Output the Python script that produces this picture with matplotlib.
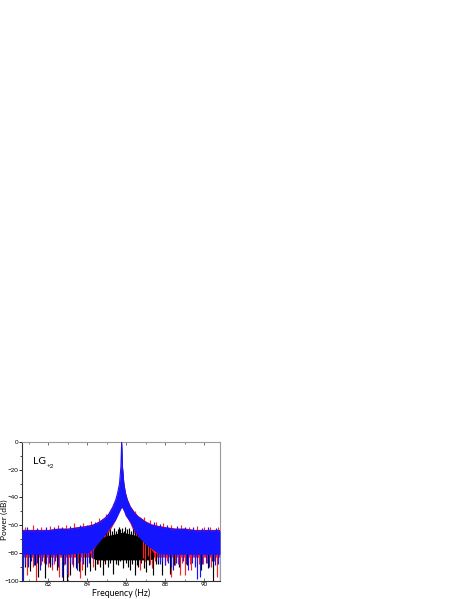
import numpy as np
import matplotlib
matplotlib.use("Agg")
import matplotlib.pyplot as plt
from matplotlib.ticker import MultipleLocator

plt.rcParams['font.family'] = ['Lato', 'DejaVu Sans']

# ---- data ----
f_env = [80.65, 81.0, 81.5, 82.0, 82.5, 83.0, 83.5, 84.0, 84.3, 84.6, 84.9, 85.1,
         85.3, 85.45, 85.55, 85.65, 85.72, 85.76, 85.8, 85.87, 85.95, 86.05, 86.2,
         86.4, 86.6, 86.8, 87.0, 87.3, 87.6, 88.0, 88.5, 89.0, 89.5, 90.0, 90.5, 90.8]

blue_top = [-64, -64, -64, -64, -63, -63, -62, -61, -60, -58, -55, -52,
            -47, -42, -37, -30, -18, 0, -18, -30, -37, -42, -47,
            -51, -54, -56, -58, -60, -61, -62, -63, -63, -64, -64, -64, -64]
blue_bot = [-81, -81, -81, -81, -81, -81, -80, -80, -77, -72, -67, -63,
            -59, -56, -53, -50, -48, -47, -48, -50, -53, -55, -58,
            -64, -68, -71, -74, -77, -80, -81, -81, -81, -81, -81, -81, -81]

red_top = [-63, -63, -63, -63, -62, -62, -61, -60, -59, -57, -54, -51,
           -46, -41, -36, -29, -17, 0, -17, -29, -36, -41, -46,
           -50, -53, -55, -57, -59, -60, -61, -62, -62, -63, -63, -63, -63]
red_bot = [-83, -83, -83, -83, -83, -83, -83, -83, -83, -81, -73, -65,
           -60, -56, -53, -50, -48, -47, -48, -50, -53, -55, -59,
           -66, -72, -77, -81, -83, -83, -83, -83, -83, -83, -83, -83, -83]

f_black = [84.3, 84.5, 84.7, 84.9, 85.2, 85.5, 85.8, 86.1, 86.4, 86.7, 87.0, 87.2, 87.4]
black_top = [-78, -73, -70, -68, -67, -66, -65, -66, -67, -69, -72, -76, -80]
black_bot = [-84, -85, -85, -85, -85, -85, -85, -85, -85, -85, -85, -85, -84]

# ragged top of the black hump (upward strokes)
black_up_f = [84.55, 84.7, 84.82, 84.95, 85.05, 85.15, 85.25, 85.35, 85.45, 85.55,
              85.62, 85.7, 85.8, 85.88, 85.95, 86.05, 86.15, 86.25, 86.35, 86.45,
              86.55, 86.65, 86.8, 86.95]
black_up_v = [-69, -67, -66, -64, -65, -63, -64, -62, -64, -63,
              -61, -63, -62, -64, -61, -63, -62, -64, -63, -65,
              -66, -67, -68, -70]

# downward strokes (frequency, depth in dB)
blue_dn_f = [80.7, 80.78, 80.95, 81.1, 81.25, 81.4, 81.57, 81.7, 81.9, 82.05,
             82.2, 82.35, 82.5, 82.69, 82.85, 82.94, 83.1, 83.25, 83.46, 83.6,
             83.8, 83.97, 84.1, 84.25, 87.6, 87.7, 87.85, 88.0, 88.15, 88.3,
             88.41, 88.55, 88.7, 88.9, 89.05, 89.18, 89.35, 89.5, 89.6, 89.78,
             89.9, 90.1, 90.25, 90.4, 90.55, 90.7, 90.78]
blue_dn_d = [-100, -88, -90, -86, -89, -87, -92, -86, -88, -87,
             -89, -86, -90, -97, -88, -95, -87, -89, -92, -86,
             -88, -90, -87, -84, -86, -88, -86, -89, -87, -90,
             -92, -87, -89, -86, -88, -92, -87, -90, -99, -97,
             -88, -87, -90, -86, -89, -88, -100]

red_dn_f = [80.89, 81.05, 81.2, 81.37, 81.65, 81.8, 82.0, 82.17, 82.3, 82.56,
            82.8, 83.03, 83.2, 83.28, 83.5, 83.63, 83.71, 83.9, 84.3, 84.55,
            84.7, 84.85, 86.7, 86.85, 86.95, 87.1, 87.2, 87.3, 87.45, 87.98,
            88.1, 88.29, 88.5, 88.67, 88.75, 88.85, 89.0, 89.25, 89.32, 89.7,
            89.95, 90.15, 90.35, 90.5, 90.64]
red_dn_d = [-96, -88, -90, -100, -89, -87, -90, -92, -88, -97,
            -89, -97, -88, -90, -87, -98, -92, -88, -90, -88,
            -84, -86, -92, -84, -86, -82, -88, -91, -86, -89,
            -86, -97, -89, -88, -96, -87, -96, -88, -92, -88,
            -88, -87, -90, -86, -97]

black_dn_f = [80.82, 81.06, 81.3, 81.46, 81.83, 82.1, 82.43, 82.74, 82.94, 83.11,
              83.4, 83.55, 83.88, 84.14, 84.38, 84.5, 84.65, 84.8, 84.92, 85.06,
              85.18, 85.32, 85.45, 85.57, 85.7, 85.83, 85.97, 86.1, 86.17, 86.3,
              86.43, 86.55, 86.6, 86.75, 86.9, 87.03, 87.15, 87.37, 87.5, 87.64,
              87.82, 88.24, 88.45, 88.7, 89.1, 89.52, 89.85, 90.2, 90.46]
black_dn_d = [-90, -93, -89, -97, -98, -90, -92, -100, -100, -96,
              -91, -93, -96, -93, -92, -88, -90, -96, -88, -90,
              -87, -95, -88, -89, -86, -91, -87, -90, -92, -88,
              -96, -89, -90, -87, -91, -94, -89, -96, -88, -88,
              -96, -95, -89, -90, -89, -89, -92, -91, -100]

# red strokes seen among the black hump on its right side
red_mid_f = [86.85, 86.95, 87.1, 87.2]
red_mid_t = [-70, -72, -74, -75]
red_mid_b = [-84, -86, -82, -88]

# upward tips of red / blue at the top of the band
red_tip_f = [80.8, 81.2, 81.6, 82.1, 82.5, 82.9, 83.3, 83.8, 84.2, 84.6,
             84.95, 86.45, 86.9, 87.2, 87.5, 87.9, 88.3, 88.8, 89.2, 89.6,
             90.0, 90.3, 90.7]
red_tip_v = [-61, -59.5, -61, -60.5, -59.5, -60, -58.5, -58.5, -57, -55,
             -52, -50, -54, -56, -58, -58.5, -59.5, -60, -61, -60.5,
             -61.5, -61, -61.5]
blue_tip_f = [80.9, 81.4, 81.9, 82.3, 82.7, 83.1, 83.6, 84.0, 84.4, 87.4,
              87.7, 88.1, 88.6, 89.0, 89.4, 89.9, 90.2, 90.6]
blue_tip_v = [-61.5, -62, -61.5, -61, -61.5, -60.5, -60, -59.5, -58, -58,
              -59, -60, -60.5, -61, -61.5, -62, -61.5, -62]

# ---- figure ----
fig = plt.figure(figsize=(4.63, 5.99), dpi=100)
ax = fig.add_axes([0.0475, 0.0306, 0.4276, 0.2315])

RED = '#ff2020'
BLUE = '#1414ff'
BLACK = '#000000'
LW = 0.85

ax.fill_between(f_env, red_bot, red_top, color=RED, lw=0, zorder=1)
ax.vlines(red_dn_f, -78, red_dn_d, color=RED, lw=LW, zorder=1)
ax.vlines(red_tip_f, -66, red_tip_v, color=RED, lw=LW, zorder=1)

ax.fill_between(f_black, black_bot, black_top, color=BLACK, lw=0, zorder=2)
ax.vlines(black_up_f, -72, black_up_v, color=BLACK, lw=LW, zorder=2)
ax.vlines(black_dn_f, -80, black_dn_d, color=BLACK, lw=LW, zorder=2)
ax.vlines(red_mid_f, red_mid_t, red_mid_b, color=RED, lw=LW, zorder=2.5)

ax.fill_between(f_env, blue_bot, blue_top, color=BLUE, lw=0, zorder=3)
ax.plot(f_env, blue_top, color=BLUE, lw=0.8, zorder=3)
ax.vlines(blue_dn_f, -78, blue_dn_d, color=BLUE, lw=LW, zorder=3)
ax.vlines(blue_tip_f, -66, blue_tip_v, color=BLUE, lw=LW, zorder=3)

ax.set_xlim(80.65, 90.8)
ax.set_ylim(-100, 0)
ax.xaxis.set_major_locator(MultipleLocator(2))
ax.xaxis.set_minor_locator(MultipleLocator(1))
ax.yaxis.set_major_locator(MultipleLocator(20))
ax.yaxis.set_minor_locator(MultipleLocator(10))

ax.tick_params(axis='x', which='both', direction='in', top=True, bottom=True,
               labelsize=4.5, pad=1.0, color='#555555')
ax.tick_params(axis='x', which='major', length=2.5, width=0.6)
ax.tick_params(axis='x', which='minor', length=1.5, width=0.5)
ax.tick_params(axis='y', which='both', direction='out', labelsize=4.5, pad=0.4)
ax.tick_params(axis='y', which='major', length=2.0, width=0.6)
ax.tick_params(axis='y', which='minor', length=1.2, width=0.5)

for s in ['top', 'right']:
    ax.spines[s].set_color('#9a9a9a')
    ax.spines[s].set_linewidth(0.8)
for s in ['left', 'bottom']:
    ax.spines[s].set_color('#333333')
    ax.spines[s].set_linewidth(0.8)

fig.text(121 / 463, 1 - 593 / 599, 'Frequency (Hz)', fontsize=6.3,
         ha='center', va='center')
fig.text(4.3 / 463, 1 - 520 / 599, 'Power (dB)', fontsize=6.0, rotation=90,
         ha='center', va='center')

ax.text(0.055, 0.86, 'LG', transform=ax.transAxes, fontsize=7.5, va='center', ha='left')
ax.text(0.125, 0.82, '+2', transform=ax.transAxes, fontsize=4.5, va='center', ha='left')

fig.savefig('out.png', dpi=100)
